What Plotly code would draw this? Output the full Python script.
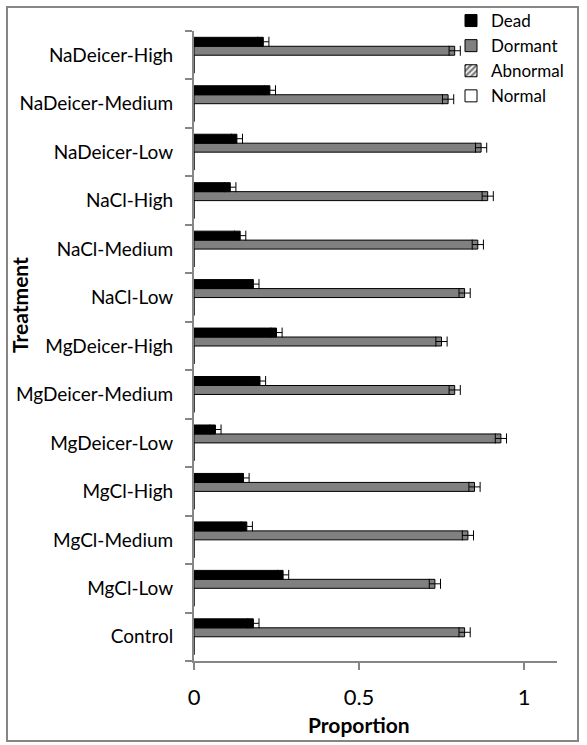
import plotly.graph_objects as go

categories = ["Control", "MgCl-Low", "MgCl-Medium", "MgCl-High", "MgDeicer-Low",
              "MgDeicer-Medium", "MgDeicer-High", "NaCl-Low", "NaCl-Medium", "NaCl-High",
              "NaDeicer-Low", "NaDeicer-Medium", "NaDeicer-High"]
dead = [0.18, 0.27, 0.16, 0.15, 0.065, 0.20, 0.25, 0.18, 0.14, 0.11, 0.13, 0.23, 0.21]
dead_err = [0.017] * 13
dormant = [0.82, 0.73, 0.83, 0.85, 0.93, 0.79, 0.75, 0.82, 0.86, 0.89, 0.87, 0.77, 0.79]
dormant_err = [0.017] * 13
abnormal = [0.0] * 13
normal = [0.0] * 13

FONT = "Lato"
fig = go.Figure()
fig.add_trace(go.Bar(name="Normal", y=categories, x=normal, orientation="h",
                     marker=dict(color="white", line=dict(color="black", width=1))))
fig.add_trace(go.Bar(name="Abnormal", y=categories, x=abnormal, orientation="h",
                     marker=dict(color="white", line=dict(color="black", width=1),
                                 pattern=dict(shape="/", fgcolor="black", bgcolor="white", size=5, solidity=0.6))))
fig.add_trace(go.Bar(name="Dormant", y=categories, x=dormant, orientation="h",
                     marker=dict(color="#808080", line=dict(color="black", width=1)),
                     error_x=dict(type="data", array=dormant_err, color="black", thickness=1, width=5)))
fig.add_trace(go.Bar(name="Dead", y=categories, x=dead, orientation="h",
                     marker=dict(color="black", line=dict(color="black", width=1)),
                     error_x=dict(type="data", array=dead_err, color="black", thickness=1, width=5)))

W, H = 587, 745
L, R, T, B = 194, 30, 31, 84
pw, ph = W - L - R, H - T - B

def px(x):
    return (x - L) / pw

def py(y):
    return (H - B - y) / ph

fig.update_layout(
    width=W, height=H,
    margin=dict(l=L, r=R, t=T, b=B, autoexpand=False),
    paper_bgcolor="white", plot_bgcolor="white",
    barmode="group", bargap=0.26, bargroupgap=0,
    font=dict(family=FONT, color="black"),
    showlegend=True,
    legend=dict(traceorder="reversed", x=px(451), y=py(3), xanchor="left", yanchor="top",
                font=dict(size=17, family=FONT), bgcolor="rgba(0,0,0,0)", tracegroupgap=0),
    xaxis=dict(range=[0, 1.1], tickvals=[0, 0.5, 1], ticktext=["0", "0.5", "1"],
               showgrid=False, zeroline=False, showline=True, linecolor="#868686", linewidth=2,
               ticks="outside", ticklen=7, tickcolor="#868686", tickwidth=2,
               ticklabelstandoff=9,
               tickfont=dict(size=22, family=FONT)),
    yaxis=dict(type="category", categoryorder="array", categoryarray=categories,
               showgrid=False, showline=True, linecolor="#868686", linewidth=2,
               ticks="outside", ticklen=7, tickcolor="#868686", tickwidth=2, tickson="boundaries",
               ticklabelstandoff=15,
               tickfont=dict(size=19, family=FONT)),
    annotations=[
        dict(text="<b>Treatment</b>", x=px(19), y=py(305), xref="paper", yref="paper",
             xanchor="center", yanchor="middle",
             textangle=-90, showarrow=False, font=dict(size=21, family=FONT)),
        dict(text="<b>Proportion</b>", x=px(359), y=py(724), xref="paper", yref="paper",
             xanchor="center", yanchor="middle",
             showarrow=False, font=dict(size=21, family=FONT)),
    ],
    shapes=[dict(type="rect", xref="paper", yref="paper", x0=px(7), x1=px(578), y0=py(741), y1=py(7),
                 line=dict(color="#868686", width=2), fillcolor="rgba(0,0,0,0)", layer="below")],
)

fig.write_html("out.html", config={"displayModeBar": False},
               post_script="document.body.style.margin='0';document.body.style.overflow='hidden';")
